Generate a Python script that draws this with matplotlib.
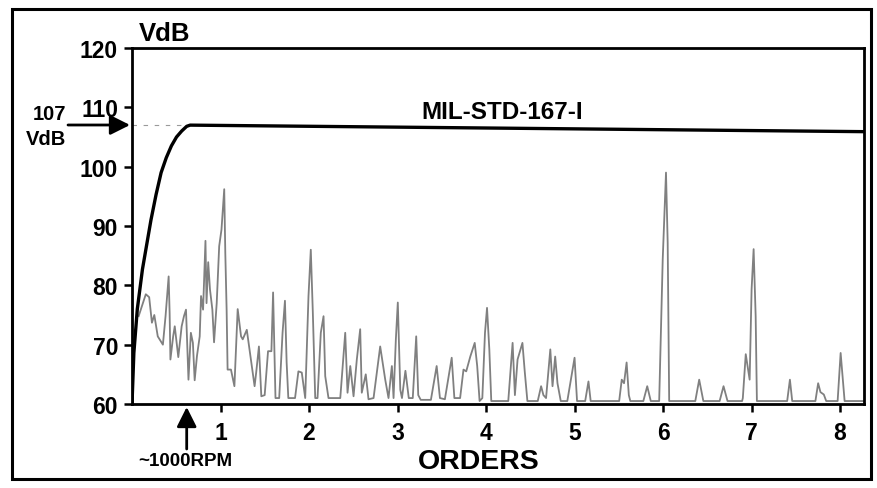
import matplotlib
matplotlib.use("Agg")
import matplotlib.pyplot as plt
from matplotlib.patches import Rectangle

plt.rcParams['font.family'] = ['Liberation Sans', 'DejaVu Sans']
plt.rcParams['font.weight'] = 'bold'

# ---- data ----
spec_order = [0.075, 0.156, 0.194, 0.225, 0.252, 0.291, 0.349, 0.379, 0.414, 0.425,
              0.434, 0.465, 0.483, 0.523, 0.561, 0.587, 0.610, 0.638, 0.665, 0.688,
              0.708, 0.734, 0.765, 0.780, 0.803, 0.830, 0.842, 0.861, 0.881, 0.908,
              0.927, 0.957, 0.985, 1.011, 1.042, 1.054, 1.069, 1.080, 1.118, 1.157,
              1.194, 1.232, 1.251, 1.297, 1.328, 1.385, 1.403, 1.434, 1.461, 1.499,
              1.537, 1.575, 1.594, 1.621, 1.663, 1.701, 1.728, 1.747, 1.766, 1.842,
              1.880, 1.918, 1.957, 1.994, 2.020, 2.043, 2.070, 2.096, 2.133, 2.164,
              2.183, 2.220, 2.353, 2.409, 2.435, 2.466, 2.503, 2.540, 2.578, 2.596,
              2.641, 2.672, 2.729, 2.804, 2.861, 2.898, 2.936, 2.955, 2.981, 3.003,
              3.031, 3.050, 3.089, 3.127, 3.172, 3.211, 3.234, 3.262, 3.377, 3.442,
              3.479, 3.535, 3.612, 3.642, 3.707, 3.745, 3.776, 3.822, 3.872, 3.900,
              3.927, 3.958, 3.988, 4.011, 4.037, 4.059, 4.251, 4.300, 4.326, 4.356,
              4.411, 4.437, 4.467, 4.584, 4.622, 4.648, 4.678, 4.726, 4.751, 4.781,
              4.807, 4.844, 4.918, 5.000, 5.028, 5.120, 5.157, 5.182, 5.504, 5.533,
              5.559, 5.588, 5.613, 5.630, 5.777, 5.821, 5.861, 5.956, 5.964, 5.996,
              6.033, 6.052, 6.069, 6.364, 6.408, 6.455, 6.639, 6.683, 6.728, 6.893,
              6.901, 6.934, 6.978, 7.000, 7.023, 7.046, 7.060, 7.402, 7.433, 7.459,
              7.721, 7.752, 7.778, 7.816, 7.843, 7.972, 8.006, 8.032, 8.051, 8.270]
spec_vdb = [74.8, 78.5, 78.0, 73.7, 75.0, 71.4, 70.0, 74.8, 81.5, 75.4,
            67.5, 71.4, 73.1, 67.9, 73.1, 74.8, 75.9, 64.1, 72.0, 70.3,
            64.0, 68.1, 71.4, 78.2, 75.9, 87.5, 77.0, 83.9, 79.3, 75.9,
            70.4, 77.0, 86.6, 89.4, 96.2, 85.5, 75.9, 65.8, 65.8, 63.0,
            76.0, 71.4, 70.9, 72.5, 69.2, 63.0, 65.3, 69.7, 61.3, 61.5,
            68.9, 68.9, 78.8, 61.0, 61.0, 72.0, 77.4, 67.0, 61.0, 61.0,
            65.5, 65.3, 61.0, 78.2, 86.0, 75.4, 61.0, 61.0, 72.0, 74.8,
            64.7, 61.0, 61.0, 72.0, 61.9, 66.4, 61.3, 67.5, 72.6, 61.9,
            65.0, 60.8, 61.0, 69.7, 64.1, 61.0, 66.4, 61.0, 70.9, 77.1,
            62.4, 61.0, 65.6, 61.0, 61.0, 71.4, 61.5, 60.7, 60.7, 66.4,
            61.0, 60.8, 67.8, 61.0, 61.0, 65.8, 65.5, 68.0, 70.3, 66.4,
            60.5, 61.0, 72.0, 76.2, 69.2, 60.5, 60.5, 70.3, 61.5, 67.5,
            70.3, 65.5, 60.5, 60.5, 63.0, 61.5, 61.0, 69.2, 63.0, 68.0,
            63.5, 60.5, 60.5, 67.8, 60.5, 60.5, 63.8, 60.5, 60.5, 64.1,
            63.5, 67.0, 61.5, 60.5, 60.5, 63.0, 60.5, 60.5, 65.3, 84.4,
            99.0, 87.2, 60.5, 60.5, 64.1, 60.5, 60.5, 63.0, 60.5, 60.5,
            61.0, 68.4, 64.1, 79.3, 86.1, 74.8, 60.5, 60.5, 64.1, 60.5,
            60.5, 63.5, 62.0, 61.6, 60.5, 60.5, 68.6, 64.0, 60.5, 60.5]

mil_order = [0.0, 0.021, 0.060, 0.118, 0.214, 0.272, 0.329, 0.387, 0.445, 0.503,
             0.561, 0.618, 0.657, 8.27]
mil_vdb = [60.0, 68.6, 76.0, 82.7, 91.0, 95.3, 99.0, 101.5, 103.5, 105.0,
           106.0, 106.8, 107.0, 105.9]

x_ticks = [1, 2, 3, 4, 5, 6, 7, 8]
y_ticks = [60, 70, 80, 90, 100, 110, 120]
limit_level = 107

# ---- figure ----
W, H = 877, 489
fig = plt.figure(figsize=(W / 100, H / 100), dpi=100)
ax = fig.add_axes([132 / W, 1 - 405 / H, (864 - 132) / W, (405 - 49) / H])

ax.plot(spec_order, spec_vdb, color='#808080', lw=1.3, zorder=2,
        solid_joinstyle='round')
ax.plot(mil_order, mil_vdb, color='black', lw=2.4, zorder=3,
        solid_capstyle='butt', solid_joinstyle='round')
ax.plot([0, mil_order[-2]], [limit_level, limit_level], color='#9a9a9a',
        lw=0.8, ls=(0, (4, 6)), zorder=1)

ax.set_xlim(0, 8.27)
ax.set_ylim(60, 120)
ax.set_xticks(x_ticks)
ax.set_yticks(y_ticks)
ax.set_xticklabels([str(t) for t in x_ticks], fontsize=16.5, fontweight='bold')
ax.set_yticklabels([str(t) for t in y_ticks], fontsize=16.5, fontweight='bold')
ax.tick_params(axis='y', direction='out', length=6, width=1.8, pad=4)
ax.tick_params(axis='x', direction='out', length=6, width=1.8, pad=6)
for s in ax.spines.values():
    s.set_linewidth(2.0)

ax.text(4.18, 107.4, 'MIL-STD-167-I', fontsize=17.5, fontweight='bold',
        ha='center', va='bottom')

# labels around the axes
fig.text(165 / W, 1 - 34 / H, 'VdB', fontsize=18.5, fontweight='bold',
         ha='center', va='center')
fig.text(479 / W, 1 - 462 / H, 'ORDERS', fontsize=20.5, fontweight='bold',
         ha='center', va='center')
fig.text(50 / W, 1 - 114.5 / H, '107', fontsize=14.5, fontweight='bold',
         ha='center', va='center')
fig.text(45.5 / W, 1 - 139.5 / H, 'VdB', fontsize=14.5, fontweight='bold',
         ha='center', va='center')
fig.text(185 / W, 1 - 462 / H, '~1000RPM', fontsize=13.5, fontweight='bold',
         ha='center', va='center')

arrow_style = dict(arrowstyle='-|>,head_length=0.6,head_width=0.3',
                   color='black', lw=2.0, mutation_scale=20,
                   shrinkA=0, shrinkB=0)
ax.annotate('', xy=(130 / W, 1 - 126 / H), xytext=(68 / W, 1 - 126 / H),
            xycoords='figure fraction', textcoords='figure fraction',
            arrowprops=arrow_style, annotation_clip=False)
ax.annotate('', xy=(186.7 / W, 1 - 408 / H), xytext=(186.7 / W, 1 - 450 / H),
            xycoords='figure fraction', textcoords='figure fraction',
            arrowprops=arrow_style, annotation_clip=False)

# outer frame
fig.patches.append(Rectangle((12 / W, 1 - 480 / H), (871 - 12) / W, (480 - 10) / H,
                             transform=fig.transFigure, fill=False,
                             edgecolor='black', lw=2.2))

fig.savefig('out.png', dpi=100)
